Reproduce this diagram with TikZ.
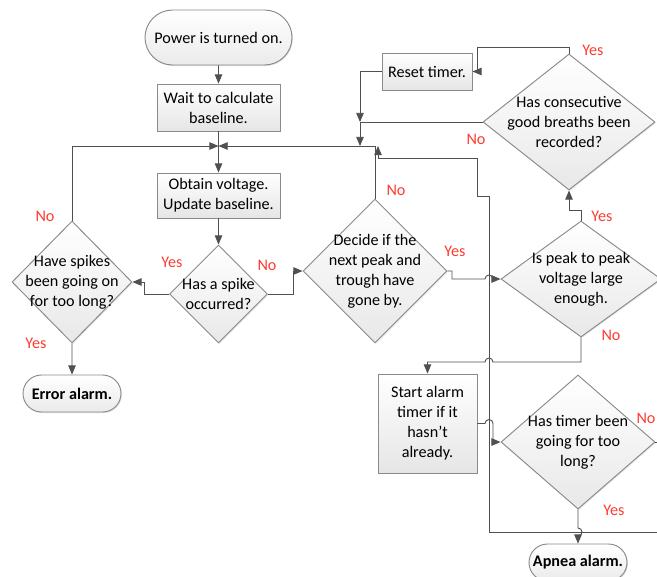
\documentclass[tikz,border=0pt]{standalone}
\usepackage{fontspec}
\setmainfont{Carlito}
\usetikzlibrary{shapes.geometric, shapes.misc, arrows, positioning, calc, shadows}

\definecolor{flowline}{HTML}{505050}
\definecolor{flowedge}{HTML}{8A8A8A}
\definecolor{answer}{HTML}{FF3B2F}

\begin{document}
\begin{tikzpicture}[
    x=0.03cm, y=-0.03cm,
    every node/.style={font=\fontsize{13.8}{17}\selectfont},
    term/.style={rounded rectangle, draw=flowedge, thick, top color=white, bottom color=black!8, drop shadow={shadow xshift=0.8pt, shadow yshift=-0.9pt, opacity=0.25}, minimum width=2.94cm, minimum height=1.11cm, inner sep=0pt},
    proc/.style={rectangle, draw=flowedge, thick, top color=white, bottom color=black!10, drop shadow={shadow xshift=0.8pt, shadow yshift=-0.9pt, opacity=0.25}, align=center, inner sep=0pt},
    dec/.style={diamond, draw=flowedge, thick, top color=white, bottom color=black!9, drop shadow={shadow xshift=0.8pt, shadow yshift=-0.9pt, opacity=0.2}, inner sep=0pt},
    dtext/.style={align=center, inner sep=0pt},
    ans/.style={text=answer, inner sep=0pt},
    arrow/.style={->, >=triangle 45, draw=flowline, line width=0.8pt}
]
\useasboundingbox (0,0) rectangle (657,576);

% --- main column ---
\node[term, minimum width=4.41cm, minimum height=1.65cm] (power) at (218.5,37.5) {Power is turned on.};
\node[proc, minimum width=3.69cm, minimum height=1.41cm] (wait) at (218.5,107.5) {Wait to calculate\\baseline.};
\node[proc, minimum width=3.69cm, minimum height=1.35cm] (obtain) at (218.5,195.5) {Obtain voltage.\\Update baseline.};
\node[dec, minimum width=2.94cm, minimum height=2.94cm] (spike) at (218.5,294) {};
\node[dtext] (spiketxt) at (spike) {Has a spike\\occurred?};

% --- spike branch ---
\node[dec, minimum width=3.6cm, minimum height=3.66cm] (spikes) at (72,282) {};
\node[dtext] (spikestxt) at (spikes) {Have spikes\\been going on\\for too long?};
\node[term] (error) at (72,393.5) {\textbf{Error alarm.}};

% --- breath detection ---
\node[dec, minimum width=4.32cm, minimum height=4.32cm] (decide) at (375,271) {};
\node[dtext] (decidetxt) at (decide) {Decide if the\\next peak and\\trough have\\gone by.};
\node[dec, minimum width=4.8cm, minimum height=3.48cm] (peak) at (581,279) {};
\node[dtext] (peaktxt) at (peak) {Is peak to peak\\voltage large\\enough.};
\node[dec, minimum width=5.16cm, minimum height=4.08cm] (consec) at (569,122) {};
\node[dtext] (consectxt) at (consec) {Has consecutive\\good breaths been\\recorded?};
\node[proc, minimum width=2.7cm, minimum height=1.11cm] (reset) at (427,71.5) {Reset timer.};

% --- apnea timer ---
\node[proc, minimum width=2.97cm, minimum height=2.97cm] (start) at (427.5,423.5) {Start alarm\\timer if it\\hasn’t\\already.};
\node[dec, minimum width=4.62cm, minimum height=4.02cm] (timer) at (578,442) {};
\node[dtext] (timertxt) at (timer) {Has timer been\\going for too\\long?};
\node[term] (apnea) at (578,562.5) {\textbf{Apnea alarm.}};

% --- junctions ---
\coordinate (join) at (218.5,146);
\coordinate (merge) at (360,146);
\coordinate (resetjoin) at (360,122);

% --- connections ---
\draw[arrow] (power) -- (wait);
\draw[arrow] (wait) -- (obtain);
\draw[arrow] (obtain) -- (spike);
\draw[arrow] (spikes.north) |- (join);
\draw[arrow] (decide.north) |- (join);
\draw[arrow] (spike.west) -- (144,294) |- (spikes.east);
\draw[arrow] (spike.east) -- (293,294) |- (decide.west);
\draw[arrow] (spikes) -- (error);
\draw[arrow] (decide.east) -- (452,271) |- (485,279) arc[start angle=180, end angle=0, radius=0.12cm] -- (peak.west);
\draw[arrow] (peak.north) -- (581,210) -| (consec.south);
\draw[arrow] (peak.south) -- (581,362) -- (493,362) arc[start angle=0, end angle=180, radius=0.12cm] -| (start.north);
\draw[arrow] (consec.north) -- (569,47) -| (477,71.5) -- (reset.east);
\draw[arrow] (reset.west) -| (resetjoin);
\draw[arrow] (consec.west) -| (merge);
\draw[arrow] (start.east) -- (485,423.5) arc[start angle=180, end angle=0, radius=0.12cm] |- (timer.west);
\draw[arrow] (timer.south) -- (578,528) arc[start angle=90, end angle=-90, radius=0.12cm] -- (apnea.north);
\draw[arrow] (timer.east) -- (670,442) |- (489,532) -- (489,196) -| (477,158) -| (378,146);

% --- answers ---
\node[ans] (spikesno) at (45,216) {No};
\node[ans] (spikesyes) at (36,343) {Yes};
\node[ans] (spikeyes) at (172,262) {Yes};
\node[ans] (spikeno) at (267,265) {No};
\node[ans] (decideno) at (396,190) {No};
\node[ans] (decideyes) at (455,251) {Yes};
\node[ans] (peakyes) at (602,216) {Yes};
\node[ans] (peakno) at (611,335) {No};
\node[ans] (consecyes) at (593,50) {Yes};
\node[ans] (consecno) at (476,139) {No};
\node[ans] (timerno) at (646,418) {No};
\node[ans] (timeryes) at (614,510) {Yes};
\end{tikzpicture}
\end{document}
